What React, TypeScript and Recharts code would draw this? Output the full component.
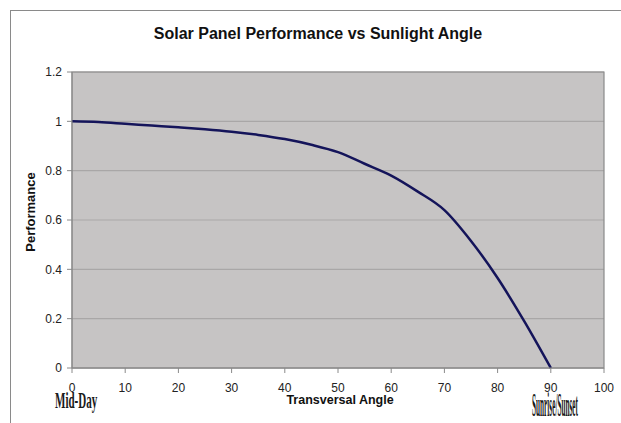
import React from "react";
import {
  LineChart,
  Line,
  XAxis,
  YAxis,
  CartesianGrid,
  ReferenceArea,
} from "recharts";

// angle of incidence (degrees) vs relative panel output
const angles = [0, 5, 10, 15, 20, 25, 30, 35, 40, 45, 50, 55, 60, 65, 70, 75, 80, 85, 90];
const performance = [
  1.0, 0.997, 0.99, 0.983, 0.976, 0.968, 0.958, 0.945, 0.928, 0.905, 0.875, 0.828, 0.78, 0.715,
  0.64, 0.515, 0.365, 0.19, 0,
];
const xTicks = [0, 10, 20, 30, 40, 50, 60, 70, 80, 90, 100];
const yTicks = [0, 0.2, 0.4, 0.6, 0.8, 1, 1.2];

const data = angles.map((a, i) => ({ angle: a, perf: performance[i] }));

const FONT = "'Liberation Sans', Arial, sans-serif";
const SERIF = "'Liberation Serif', 'Times New Roman', serif";

export default function App() {
  return (
    <div
      style={{
        position: "fixed",
        left: 0,
        top: 0,
        width: 621,
        height: 423,
        background: "#fff",
        overflow: "hidden",
      }}
    >
      <style>{`html, body { margin: 0; overflow: hidden; }`}</style>
      {/* outer chart frame, runs off the right and bottom of the crop */}
      <div
        style={{
          position: "absolute",
          left: 10,
          top: 10,
          width: 611,
          height: 413,
          borderLeft: "1.5px solid #8a8a8a",
          borderTop: "1.5px solid #8a8a8a",
        }}
      />
      <div style={{ position: "absolute", left: 0, top: 0 }}>
        <LineChart
          width={621}
          height={423}
          data={data}
          margin={{ top: 72, right: 17, bottom: 25, left: 32 }}
        >
          <CartesianGrid
            horizontal
            vertical={false}
            fill="#c6c4c4"
            stroke="#a9a7a7"
            strokeWidth={1.2}
          />
          <XAxis
            dataKey="angle"
            type="number"
            domain={[0, 100]}
            ticks={xTicks}
            interval={0}
            height={30}
            tickSize={5}
            tickMargin={10}
            stroke="#8a8a8a"
            tick={{ fill: "#222", fontSize: 12, fontFamily: FONT }}
          />
          <YAxis
            type="number"
            domain={[0, 1.2]}
            ticks={yTicks}
            interval={0}
            width={40}
            tickSize={5}
            tickMargin={5}
            stroke="#8a8a8a"
            tickFormatter={(v) => String(Number(v.toFixed(1)))}
            tick={{ fill: "#222", fontSize: 12, fontFamily: FONT }}
          />
          <ReferenceArea
            x1={0}
            x2={100}
            y1={0}
            y2={1.2}
            fill="none"
            stroke="#8a8a8a"
            strokeWidth={1.2}
          />
          <Line
            type="monotone"
            dataKey="perf"
            stroke="#14145a"
            strokeWidth={2.5}
            dot={false}
            isAnimationActive={false}
          />
        </LineChart>
      </div>
      <svg
        width={621}
        height={423}
        style={{ position: "absolute", left: 0, top: 0, pointerEvents: "none" }}
      >
        <text
          x={318}
          y={39}
          textAnchor="middle"
          fontFamily={FONT}
          fontWeight="bold"
          fontSize={16}
          fill="#111"
        >
          Solar Panel Performance vs Sunlight Angle
        </text>
        <text
          x={340}
          y={404}
          textAnchor="middle"
          fontFamily={FONT}
          fontWeight="bold"
          fontSize={12.5}
          fill="#111"
        >
          Transversal Angle
        </text>
        <text
          transform="translate(35,212) rotate(-90)"
          textAnchor="middle"
          fontFamily={FONT}
          fontWeight="bold"
          fontSize={13}
          fill="#111"
        >
          Performance
        </text>
        {/* squeezed hand-made annotations under the axis ends */}
        <text
          transform="translate(55,408) scale(0.46,1)"
          fontFamily={SERIF}
          fontWeight="bold"
          fontSize={24}
          fill="#1a1a1a"
        >
          Mid-Day
        </text>
        <text
          transform="translate(532,416) scale(0.22,1)"
          fontFamily={SERIF}
          fontWeight="bold"
          fontSize={33}
          fill="#1a1a1a"
        >
          Sunrise/Sunset
        </text>
      </svg>
    </div>
  );
}
